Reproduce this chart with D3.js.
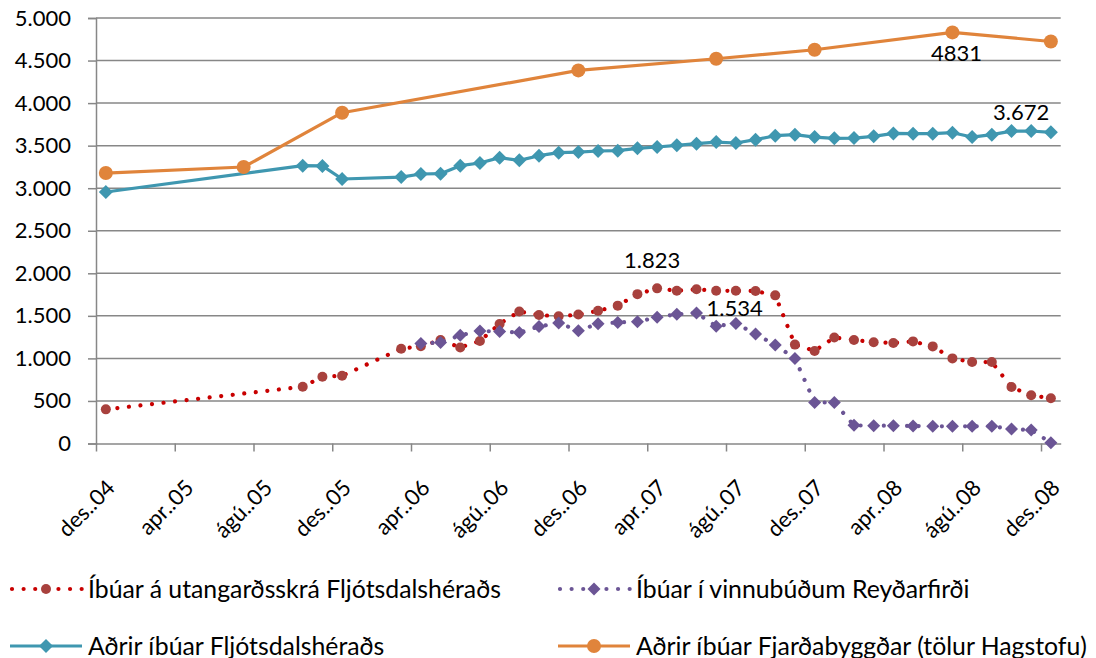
<!DOCTYPE html>
<html>
<head>
<meta charset="utf-8">
<script src="https://cdn.jsdelivr.net/npm/d3@7"></script>
<style>
  body { margin: 0; background: #fff; }
  text { font-family: Lato, "Open Sans", sans-serif; fill: #000; }
</style>
</head>
<body>
<script>
// Month axis: Dec 2004 .. Dec 2008, one label every 4 months
const tickLabels = ["des..04", "apr..05", "ágú..05", "des..05", "apr..06", "ágú..06", "des..06",
                    "apr..07", "ágú..07", "des..07", "apr..08", "ágú..08", "des..08"];
const yTicks = [0, 500, 1000, 1500, 2000, 2500, 3000, 3500, 4000, 4500, 5000];

// months are counted from des..04 (0) to des..08 (48)
const utangardMonths = [0, 10, 11, 12, 15, 16, 17, 18, 19, 20, 21, 22, 23, 24, 25, 26, 27, 28, 29, 30, 31,
                        32, 33, 34, 35, 36, 37, 38, 39, 40, 41, 42, 43, 44, 45, 46, 47, 48];
const utangardValues = [401, 667, 784, 796, 1113, 1144, 1215, 1129, 1205, 1405, 1551, 1510, 1495, 1515, 1559,
                        1620, 1755, 1823, 1794, 1813, 1794, 1794, 1792, 1741, 1162, 1088, 1246, 1217, 1190,
                        1182, 1200, 1141, 1000, 957, 957, 663, 566, 531];

const vinnubudMonths = [16, 17, 18, 19, 20, 21, 22, 23, 24, 25, 26, 27, 28, 29, 30, 31, 32,
                        33, 34, 35, 36, 37, 38, 39, 40, 41, 42, 43, 44, 45, 46, 47, 48];
const vinnubudValues = [1176, 1188, 1272, 1322, 1316, 1303, 1375, 1417, 1326, 1407, 1423, 1430, 1485, 1518,
                        1534, 1379, 1411, 1288, 1156, 1000, 482, 482, 213, 209, 209, 206, 202, 202, 202, 202,
                        170, 158, 9];

const fljotsdalMonths = [0, 10, 11, 12, 15, 16, 17, 18, 19, 20, 21, 22, 23, 24, 25, 26, 27, 28, 29, 30, 31,
                         32, 33, 34, 35, 36, 37, 38, 39, 40, 41, 42, 43, 44, 45, 46, 47, 48];
const fljotsdalValues = [2955, 3265, 3262, 3108, 3131, 3167, 3171, 3265, 3296, 3359, 3327, 3382, 3418, 3425,
                         3437, 3441, 3468, 3484, 3504, 3523, 3542, 3531, 3570, 3617, 3629, 3601, 3586, 3589,
                         3609, 3644, 3641, 3641, 3652, 3601, 3629, 3671, 3672, 3656];

const fjardabyggdMonths = [0, 7, 12, 24, 31, 36, 43, 48];
const fjardabyggdValues = [3178, 3249, 3887, 4384, 4521, 4627, 4831, 4724];

const seriesNames = ["Íbúar á utangarðsskrá Fljótsdalshéraðs", "Íbúar í vinnubúðum Reyðarfirði",
                     "Aðrir íbúar Fljótsdalshéraðs", "Aðrir íbúar Fjarðabyggðar (tölur Hagstofu)"];

const width = 1096, height = 658;
const svg = d3.select("body").append("svg")
    .attr("width", width)
    .attr("height", height);

const x = d3.scaleLinear().domain([0, 49]).range([96, 1060.7]);
const y = d3.scaleLinear().domain([0, 5000]).range([443.5, 18]);
const gridColor = "#878787";

// horizontal gridlines
svg.append("g")
    .selectAll("line")
    .data(yTicks.filter(d => d > 0))
    .join("line")
    .attr("x1", x(0)).attr("x2", x(49))
    .attr("y1", d => y(d)).attr("y2", d => y(d))
    .attr("stroke", gridColor).attr("stroke-width", 1.5);

// y axis
const yAxis = svg.append("g")
    .attr("transform", `translate(${x(0)},0)`)
    .call(d3.axisLeft(y).tickValues(yTicks).tickSize(8).tickPadding(17)
        .tickFormat(d => d3.format(",")(d).replace(/,/g, ".")));
yAxis.select(".domain").attr("stroke", gridColor).attr("stroke-width", 1.5);
yAxis.selectAll(".tick line").attr("stroke", gridColor).attr("stroke-width", 1.5);
yAxis.selectAll(".tick text").attr("font-size", 22).attr("font-family", "Lato");

// x axis
const xAxis = svg.append("g")
    .attr("transform", `translate(0,${y(0)})`)
    .call(d3.axisBottom(x).tickValues(d3.range(0, 49, 4)).tickSize(8).tickSizeOuter(0)
        .tickFormat((d, i) => tickLabels[i]));
xAxis.select(".domain").attr("stroke", gridColor).attr("stroke-width", 1.5);
xAxis.selectAll(".tick line").attr("stroke", gridColor).attr("stroke-width", 1.5);
xAxis.selectAll(".tick text")
    .attr("font-size", 22).attr("font-family", "Lato")
    .attr("text-anchor", "end")
    .attr("dy", 0)
    .attr("transform", "translate(12,38) rotate(-45)");

const line = d3.line().x(d => x(d.m + 0.5)).y(d => y(d.v));
const zip = (ms, vs) => ms.map((m, i) => ({ m, v: vs[i] }));

const diamond = s => `M0,${-s}L${s},0L0,${s}L${-s},0Z`;

const series = [
    { data: zip(utangardMonths, utangardValues), line: "#C80000", dotted: true, marker: "circle", r: 5, fill: "#A8413D" },
    { data: zip(vinnubudMonths, vinnubudValues), line: "#6B5595", dotted: true, marker: "diamond", r: 6.5, fill: "#6B5595" },
    { data: zip(fljotsdalMonths, fljotsdalValues), line: "#3F97B0", dotted: false, marker: "diamond", r: 7, fill: "#3F97B0" },
    { data: zip(fjardabyggdMonths, fjardabyggdValues), line: "#E0843B", dotted: false, marker: "circle", r: 7, fill: "#E0843B" }
];

series.forEach(s => {
    const g = svg.append("g");
    g.append("path")
        .datum(s.data)
        .attr("d", line)
        .attr("fill", "none")
        .attr("stroke", s.line)
        .attr("stroke-width", s.dotted ? 4.2 : 3.2)
        .attr("stroke-linecap", "round")
        .attr("stroke-linejoin", "round")
        .attr("stroke-dasharray", s.dotted ? "0.01 11.6" : null);
    if (s.marker === "circle") {
        g.selectAll("circle").data(s.data).join("circle")
            .attr("cx", d => x(d.m + 0.5)).attr("cy", d => y(d.v))
            .attr("r", s.r).attr("fill", s.fill);
    } else {
        g.selectAll("path.mk").data(s.data).join("path")
            .attr("class", "mk")
            .attr("transform", d => `translate(${x(d.m + 0.5)},${y(d.v)})`)
            .attr("d", diamond(s.r)).attr("fill", s.fill);
    }
});

// data labels
const labels = [
    { m: 28, v: 1823, text: "1.823", dx: -5, dy: -20, anchor: "middle" },
    { m: 30, v: 1534, text: "1.534", dx: 10, dy: 3, anchor: "start" },
    { m: 47, v: 3672, text: "3.672", dx: -10, dy: -11, anchor: "middle" },
    { m: 43, v: 4831, text: "4831", dx: 4, dy: 29, anchor: "middle" }
];
svg.append("g").selectAll("text").data(labels).join("text")
    .attr("x", d => x(d.m + 0.5) + d.dx)
    .attr("y", d => y(d.v) + d.dy)
    .attr("text-anchor", d => d.anchor)
    .attr("font-size", 22)
    .text(d => d.text);

// legend
const legendPos = [[10, 589], [558, 589], [10, 646], [558, 646]];
series.forEach((s, i) => {
    const [lx, ly] = legendPos[i];
    const g = svg.append("g").attr("transform", `translate(${lx},${ly})`);
    g.append("line")
        .attr("x1", s.dotted ? 2 : 0).attr("x2", 72)
        .attr("stroke", s.line)
        .attr("stroke-width", s.dotted ? 4.2 : 3.2)
        .attr("stroke-linecap", s.dotted ? "round" : "butt")
        .attr("stroke-dasharray", s.dotted ? "0.01 11.6" : null);
    if (s.marker === "circle") {
        g.append("circle").attr("cx", 36).attr("r", s.r).attr("fill", s.fill);
    } else {
        g.append("path").attr("transform", "translate(36,0)").attr("d", diamond(s.r)).attr("fill", s.fill);
    }
    g.append("text")
        .attr("x", 78).attr("y", 8.5)
        .attr("font-size", 24.8)
        .text(seriesNames[i]);
});
</script>
</body>
</html>
